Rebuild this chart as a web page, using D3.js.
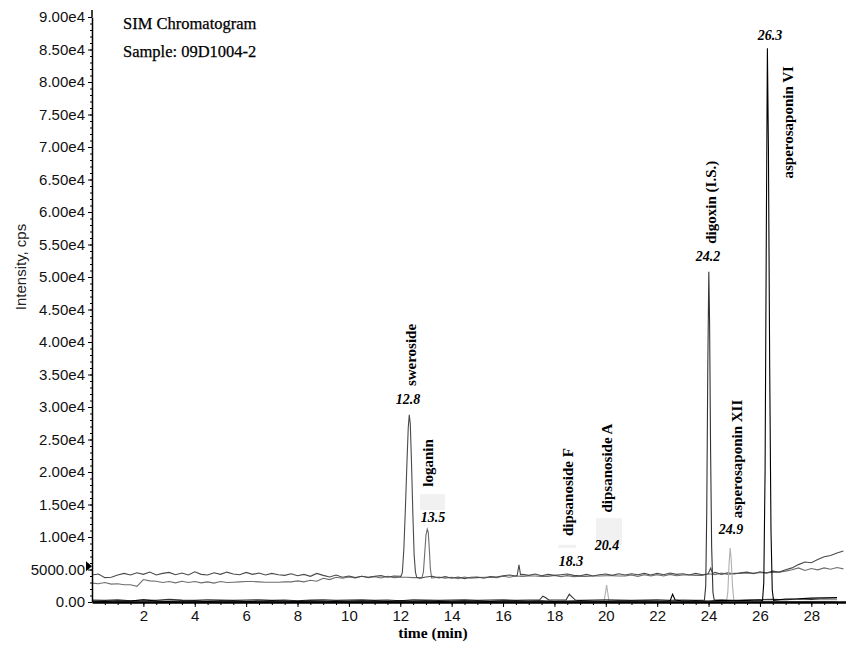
<!DOCTYPE html>
<html>
<head>
<meta charset="utf-8">
<script src="https://cdn.jsdelivr.net/npm/d3@7"></script>
<style>
  body { margin: 0; background: #fff; }
  svg { display: block; }
</style>
</head>
<body>
<svg id="chart"></svg>
<script>
// ---- data ----
const title = 'SIM Chromatogram';
const sample = 'Sample: 09D1004-2';

// baselines, one value every baseStep min starting at 0
const baseStep = 0.25;
const traceA = [
  4150, 4300, 3750, 3800, 4150, 4400, 4150, 4500, 4250, 4600, 4150, 4400,
  4550, 4200, 4450, 4150, 4650, 4250, 4150, 4500, 4250, 4600, 4300, 4200,
  4550, 4250, 4450, 4150, 4400, 4200, 4100, 4350, 4050, 4250, 3950, 4400,
  4100, 3850, 4150, 3800, 4000, 3750, 3950, 3800, 3950, 4050, 3800, 4000,
  3950, 3750, 3950, 3650, 3850, 3950, 3700, 3900, 3650, 3850, 3600, 3800,
  3850, 3650, 3900, 3850, 4050, 4150, 4000, 4250, 4100, 4300, 4050, 4250,
  4100, 4200, 4300, 4100, 4050, 4250, 4000, 4200, 4300, 4100, 4350, 4150,
  4350, 4200, 4400, 4150, 4400, 4200, 4450, 4250, 4350, 4150, 4400, 4200,
  4450, 4550, 4250, 4500, 4300, 4500, 4600, 4350, 4650, 4450, 4750, 4600,
  4950, 5250, 5750, 6150, 6050, 6550, 6950, 7150, 7550, 7850
];
const traceB = [
  2900, 2800, 3000, 2750, 2800, 2650, 2650, 2400, 3450, 3250, 3200, 3000,
  3150, 2950, 3200, 3000, 3150, 2950, 3100, 2900, 3150, 3000, 3050, 3100,
  3150, 3150, 3100, 3050, 3050, 3050, 3100, 3100, 3250, 3100, 3350, 3200,
  3650, 3450, 3800, 3650, 3850, 3700, 3950, 3750, 3900, 3700, 3950, 3750,
  3800, 3800, 3750, 3750, 3700, 3700, 3850, 3650, 3800, 3600, 3850, 3650,
  3750, 3800, 3800, 3750, 3950, 3800, 4000, 3950, 4000, 4000, 3950, 3950,
  4100, 3900, 4050, 3900, 3950, 3950, 4000, 4000, 4050, 4050, 4000, 4000,
  4150, 3950, 4200, 4000, 4200, 4000, 4250, 4050, 4150, 4150, 4100, 4100,
  4350, 4200, 4450, 4250, 4400, 4400, 4450, 4450, 4500, 4500, 4550, 4600,
  4750, 4950, 5250, 4850, 5150, 4950, 5250, 5050, 5300, 5100
];

// low channels, one value every lowStep min starting at 0
const lowStep = 0.5;
const traceC = [
  300, 250, 350, 200, 300, 250, 400, 300, 250, 350, 300, 250, 300, 350, 250,
  300, 200, 300, 350, 250, 300, 350, 250, 300, 200, 350, 300, 250, 300, 350,
  250, 300, 350, 250, 300, 200, 300, 350, 250, 300, 350, 300, 250, 300, 350,
  250, 300, 250, 350, 300, 250, 300, 350, 400, 350, 450, 400, 500, 450
];
const traceD = [
  150, 100, 200, 150, 350, 150, 100, 200, 150, 100, 200, 150, 100, 150, 200,
  150, 100, 200, 150, 100, 150, 200, 150, 100, 200, 150, 200, 100, 150, 200,
  150, 100, 200, 150, 150, 200, 100, 150, 200, 150, 100, 200, 150, 200, 150,
  100, 150, 200, 150, 250, 200, 250, 300, 350, 450, 500, 600, 650, 700
];
const traceE = [
  60, 80, 50, 70, 60, 90, 50, 70, 60, 80, 50, 70, 90, 60, 80,
  50, 70, 60, 80, 50, 70, 60, 90, 50, 80, 60, 70, 50, 80, 60,
  70, 90, 60, 80, 50, 70, 60, 80, 50, 90, 60, 70, 80, 50, 60,
  70, 90, 60, 80, 70, 60, 80, 90, 70, 100, 80, 110, 90, 120
];

// peaks [time (min), intensity (cps)]
const swerosidePeak = [[12.02, 3900], [12.08, 4500], [12.14, 8200], [12.2, 14500], [12.26, 21500], [12.31, 26800], [12.35, 28800], [12.39, 27400], [12.44, 21000], [12.49, 13500], [12.54, 7200], [12.59, 4600], [12.64, 3800]];
const spikeA = [[16.55, 4100], [16.62, 5700], [16.68, 4200]];
const bumpA = [[23.98, 4300], [24.08, 5200], [24.16, 4400]];
const loganinPeak = [[12.84, 3700], [12.9, 4600], [12.95, 7400], [13.0, 10300], [13.05, 11200], [13.09, 10700], [13.13, 8200], [13.17, 5200], [13.22, 3700]];
const bumpC1 = [[17.42, 300], [17.55, 900], [17.65, 700], [17.78, 300]];
const bumpC2 = [[18.45, 300], [18.58, 1200], [18.7, 700], [18.82, 300]];
const digoxinPeak = [[23.84, 300], [23.89, 2500], [23.93, 14000], [23.97, 36000], [24.01, 50800], [24.04, 43000], [24.08, 23000], [24.12, 8500], [24.17, 1500], [24.22, 300]];
const bumpD = [[22.5, 150], [22.6, 1200], [22.7, 300]];
const vi_Peak = [[26.1, 200], [26.15, 3000], [26.2, 20000], [26.25, 58000], [26.29, 85200], [26.33, 70000], [26.38, 36000], [26.43, 11000], [26.48, 1800], [26.53, 250]];
const bumpE = [[19.93, 100], [19.98, 1200], [20.03, 2600], [20.07, 1600], [20.12, 150]];
const xiiPeak = [[24.7, 100], [24.75, 1500], [24.8, 6000], [24.84, 8300], [24.88, 6600], [24.93, 2600], [24.98, 400], [25.03, 100]];

// compound labels: name, time, intensity where the label sits
const compoundNames = ['sweroside', 'loganin', 'dipsanoside F', 'dipsanoside A', 'digoxin (I.S.)', 'asperosaponin XII', 'asperosaponin VI'];
const compoundAt = [[12.42, 38000], [13.08, 21400], [18.53, 16900], [20.05, 20600], [24.1, 61500], [25.1, 22000], [27.09, 73800]];
const rtLabels = ['12.8', '13.5', '18.3', '20.4', '24.2', '24.9', '26.3'];
const rtAt = [[12.3, 31200], [13.27, 13100], [18.65, 6300], [20.05, 8770], [23.98, 53200], [24.87, 11200], [26.39, 87200]];
// faint label boxes [t0, t1, v0, v1]
const boxes = [[12.77, 13.74, 14150, 16600], [19.62, 20.63, 8770, 12900], [18.15, 18.85, 8300, 8800]];

const yTicks = d3.range(0, 90001, 5000);
const xTicks = [2, 4, 6, 8, 10, 12, 14, 16, 18, 20, 22, 24, 26, 28];

// ---- layout ----
const W = 846, H = 646;
const margin = { top: 17, right: 0, bottom: 44, left: 92 };
const serif = '"Liberation Serif", "Times New Roman", serif';
const sans = '"Liberation Sans", Arial, sans-serif';

const svg = d3.select('#chart').attr('width', W).attr('height', H);

const x = d3.scaleLinear().domain([0, 29.35]).range([margin.left, W - margin.right]);
const y = d3.scaleLinear().domain([0, 90000]).range([H - margin.bottom, margin.top]);

function baseline(vals, step) {
  return vals.map((v, i) => [i * step, v]);
}
function withPeaks(base, peaks) {
  let pts = base;
  peaks.forEach(p => {
    const t0 = p[0][0], t1 = p[p.length - 1][0];
    pts = pts.filter(d => d[0] < t0 || d[0] > t1).concat(p);
  });
  return pts.sort((a, b) => a[0] - b[0]);
}

const traces = [
  { pts: withPeaks(baseline(traceB, baseStep), [loganinPeak]), color: '#6e6e6e' },
  { pts: withPeaks(baseline(traceA, baseStep), [swerosidePeak, spikeA, bumpA]), color: '#4a4a4a' },
  { pts: withPeaks(baseline(traceE, lowStep), [bumpE, xiiPeak]), color: '#b0b0b0' },
  { pts: withPeaks(baseline(traceC, lowStep), [bumpC1, bumpC2, digoxinPeak]), color: '#333333' },
  { pts: withPeaks(baseline(traceD, lowStep), [bumpD, vi_Peak]), color: '#000000' }
];

// faint boxes behind labels
svg.append('g').selectAll('rect')
  .data(boxes)
  .enter()
  .append('rect')
  .attr('x', d => x(d[0]))
  .attr('y', d => y(d[3]))
  .attr('width', d => x(d[1]) - x(d[0]))
  .attr('height', d => y(d[2]) - y(d[3]))
  .attr('fill', '#f1f1f1');

svg.append('clipPath').attr('id', 'clip')
  .append('rect')
  .attr('x', margin.left).attr('y', 0)
  .attr('width', W - margin.left).attr('height', H - margin.bottom);

const line = d3.line().x(d => x(d[0])).y(d => y(d[1]));

svg.append('g').attr('clip-path', 'url(#clip)')
  .selectAll('path')
  .data(traces)
  .enter()
  .append('path')
  .attr('d', d => line(d.pts))
  .attr('fill', 'none')
  .attr('stroke', d => d.color)
  .attr('stroke-width', 1.1);

// axes
const fmtY = d => d === 0 ? '0.00' : d < 10000 ? d.toFixed(2) : (d / 1e4).toFixed(2) + 'e4';

const gY = svg.append('g')
  .attr('transform', 'translate(' + margin.left + ',0)')
  .call(d3.axisLeft(y).tickValues(yTicks).tickFormat(fmtY).tickSize(4).tickSizeOuter(0).tickPadding(3));
gY.select('.domain').attr('stroke-width', 1.5);
gY.selectAll('text').attr('font-family', sans).attr('font-size', 15).attr('fill', '#111');

svg.append('g')
  .attr('transform', 'translate(' + margin.left + ',0)')
  .call(d3.axisLeft(y).tickValues(d3.range(0, 90001, 1000)).tickFormat('').tickSize(2).tickSizeOuter(0))
  .select('.domain').remove();

const gX = svg.append('g')
  .attr('transform', 'translate(0,' + (H - margin.bottom) + ')')
  .call(d3.axisBottom(x).tickValues(xTicks).tickSize(5).tickSizeOuter(0).tickPadding(3));
gX.select('.domain').attr('stroke-width', 2.5);
gX.selectAll('text').attr('font-family', sans).attr('font-size', 15).attr('fill', '#111');

svg.append('g')
  .attr('transform', 'translate(0,' + (H - margin.bottom) + ')')
  .call(d3.axisBottom(x).tickValues(d3.range(0.5, 29.3, 0.5)).tickFormat('').tickSize(3).tickSizeOuter(0))
  .select('.domain').remove();

// axis line extends a little above the top tick
svg.append('line')
  .attr('x1', margin.left).attr('x2', margin.left)
  .attr('y1', 10).attr('y2', margin.top)
  .attr('stroke', '#000').attr('stroke-width', 1.5);

// marker on the axis
const my = y(5500);
svg.append('path')
  .attr('d', 'M' + (margin.left - 6) + ',' + (my - 5) + 'L' + margin.left + ',' + my + 'L' + (margin.left - 6) + ',' + (my + 5) + 'Z')
  .attr('fill', '#000');

// axis titles
svg.append('text')
  .attr('transform', 'translate(21,267) rotate(-90)')
  .attr('text-anchor', 'middle')
  .attr('dy', '0.35em')
  .attr('font-family', sans)
  .attr('font-size', 15)
  .attr('fill', '#222')
  .text('Intensity, cps');

svg.append('text')
  .attr('x', 433).attr('y', 638)
  .attr('text-anchor', 'middle')
  .attr('font-family', serif)
  .attr('font-weight', 'bold')
  .attr('font-size', 15.5)
  .text('time (min)');

// header
svg.append('text')
  .attr('x', 123).attr('y', 29)
  .attr('font-family', serif)
  .attr('font-size', 16.5)
  .attr('stroke', '#000').attr('stroke-width', 0.25)
  .text(title);
svg.append('text')
  .attr('x', 123).attr('y', 57)
  .attr('font-family', serif)
  .attr('font-size', 16.5)
  .attr('stroke', '#000').attr('stroke-width', 0.25)
  .text(sample);

// compound names (rotated)
svg.append('g').selectAll('text')
  .data(compoundNames)
  .enter()
  .append('text')
  .attr('transform', (d, i) => 'translate(' + x(compoundAt[i][0]) + ',' + y(compoundAt[i][1]) + ') rotate(-90)')
  .attr('text-anchor', 'middle')
  .attr('dy', '0.35em')
  .attr('font-family', serif)
  .attr('font-weight', 'bold')
  .attr('font-size', 15)
  .text(d => d);

// retention times
svg.append('g').selectAll('text')
  .data(rtLabels)
  .enter()
  .append('text')
  .attr('x', (d, i) => x(rtAt[i][0]))
  .attr('y', (d, i) => y(rtAt[i][1]))
  .attr('text-anchor', 'middle')
  .attr('dy', '0.35em')
  .attr('font-family', serif)
  .attr('font-weight', 'bold')
  .attr('font-style', 'italic')
  .attr('font-size', 14)
  .text(d => d);
</script>
</body>
</html>
